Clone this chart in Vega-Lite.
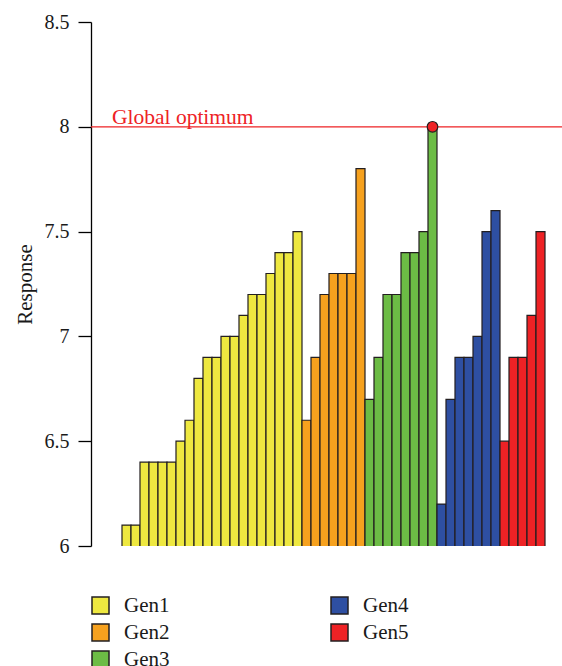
{
  "$schema": "https://vega.github.io/schema/vega-lite/v6.json",
  "width": 471,
  "height": 524,
  "autosize": {"type": "none"},
  "padding": {"left": 91, "top": 22, "right": 0, "bottom": 120},
  "background": "white",
  "config": {
    "view": {"stroke": null},
    "font": "Liberation Serif"
  },
  "data": {
    "values": [
      {"i": 1, "gen": "Gen1", "response": 6.1},
      {"i": 2, "gen": "Gen1", "response": 6.1},
      {"i": 3, "gen": "Gen1", "response": 6.4},
      {"i": 4, "gen": "Gen1", "response": 6.4},
      {"i": 5, "gen": "Gen1", "response": 6.4},
      {"i": 6, "gen": "Gen1", "response": 6.4},
      {"i": 7, "gen": "Gen1", "response": 6.5},
      {"i": 8, "gen": "Gen1", "response": 6.6},
      {"i": 9, "gen": "Gen1", "response": 6.8},
      {"i": 10, "gen": "Gen1", "response": 6.9},
      {"i": 11, "gen": "Gen1", "response": 6.9},
      {"i": 12, "gen": "Gen1", "response": 7.0},
      {"i": 13, "gen": "Gen1", "response": 7.0},
      {"i": 14, "gen": "Gen1", "response": 7.1},
      {"i": 15, "gen": "Gen1", "response": 7.2},
      {"i": 16, "gen": "Gen1", "response": 7.2},
      {"i": 17, "gen": "Gen1", "response": 7.3},
      {"i": 18, "gen": "Gen1", "response": 7.4},
      {"i": 19, "gen": "Gen1", "response": 7.4},
      {"i": 20, "gen": "Gen1", "response": 7.5},
      {"i": 21, "gen": "Gen2", "response": 6.6},
      {"i": 22, "gen": "Gen2", "response": 6.9},
      {"i": 23, "gen": "Gen2", "response": 7.2},
      {"i": 24, "gen": "Gen2", "response": 7.3},
      {"i": 25, "gen": "Gen2", "response": 7.3},
      {"i": 26, "gen": "Gen2", "response": 7.3},
      {"i": 27, "gen": "Gen2", "response": 7.8},
      {"i": 28, "gen": "Gen3", "response": 6.7},
      {"i": 29, "gen": "Gen3", "response": 6.9},
      {"i": 30, "gen": "Gen3", "response": 7.2},
      {"i": 31, "gen": "Gen3", "response": 7.2},
      {"i": 32, "gen": "Gen3", "response": 7.4},
      {"i": 33, "gen": "Gen3", "response": 7.4},
      {"i": 34, "gen": "Gen3", "response": 7.5},
      {"i": 35, "gen": "Gen3", "response": 8.0},
      {"i": 36, "gen": "Gen4", "response": 6.2},
      {"i": 37, "gen": "Gen4", "response": 6.7},
      {"i": 38, "gen": "Gen4", "response": 6.9},
      {"i": 39, "gen": "Gen4", "response": 6.9},
      {"i": 40, "gen": "Gen4", "response": 7.0},
      {"i": 41, "gen": "Gen4", "response": 7.5},
      {"i": 42, "gen": "Gen4", "response": 7.6},
      {"i": 43, "gen": "Gen5", "response": 6.5},
      {"i": 44, "gen": "Gen5", "response": 6.9},
      {"i": 45, "gen": "Gen5", "response": 6.9},
      {"i": 46, "gen": "Gen5", "response": 7.1},
      {"i": 47, "gen": "Gen5", "response": 7.5}
    ]
  },
  "layer": [
    {
      "mark": {"type": "bar", "orient": "vertical", "width": 9, "stroke": "#231f20", "strokeWidth": 1.2, "clip": true},
      "encoding": {
        "x": {"field": "i", "type": "quantitative", "scale": {"domain": [-2.944, 49.389], "nice": false, "zero": false, "padding": 0}, "axis": null},
        "y": {
          "field": "response", "type": "quantitative",
          "scale": {"domain": [6, 8.5], "nice": false, "zero": false},
          "axis": {
            "title": "Response",
            "values": [6, 6.5, 7, 7.5, 8, 8.5],
            "format": "~g",
            "grid": false,
            "domainColor": "#000000",
            "domainWidth": 1.3,
            "tickColor": "#000000",
            "tickWidth": 1.3,
            "tickSize": 13,
            "labelPadding": 9,
            "labelFont": "Liberation Serif",
            "labelFontSize": 20,
            "labelColor": "#1a1a1a",
            "titleFont": "Liberation Serif",
            "titleFontSize": 21,
            "titleFontWeight": "normal",
            "titleColor": "#1a1a1a",
            "titlePadding": 9
          }
        },
        "color": {
          "field": "gen", "type": "nominal",
          "scale": {
            "domain": ["Gen1", "Gen2", "Gen3", "Gen4", "Gen5"],
            "range": ["#EEE840", "#F6A11E", "#6CBC45", "#2E4FA2", "#EE2225"]
          },
          "legend": {
            "title": null,
            "orient": "none",
            "legendX": -1,
            "legendY": 573,
            "direction": "vertical",
            "columns": 2,
            "columnPadding": 158,
            "rowPadding": 4,
            "symbolType": "square",
            "symbolSize": 289,
            "symbolStrokeColor": "#231f20",
            "symbolStrokeWidth": 1.5,
            "symbolOpacity": 1,
            "labelFont": "Liberation Serif",
            "labelFontSize": 21,
            "labelColor": "#1a1a1a",
            "labelOffset": 13,
            "padding": 0
          }
        }
      }
    },
    {
      "data": {"values": [{"opt": 8}]},
      "mark": {"type": "rule", "color": "#EE2225", "strokeWidth": 1.3},
      "encoding": {
        "y": {"field": "opt", "type": "quantitative"}
      }
    },
    {
      "data": {"values": [{"i": -0.61, "opt": 8, "label": "Global optimum"}]},
      "mark": {"type": "text", "align": "left", "baseline": "alphabetic", "dy": -3, "font": "Liberation Serif", "fontSize": 21.5, "color": "#EE2225"},
      "encoding": {
        "x": {"field": "i", "type": "quantitative"},
        "y": {"field": "opt", "type": "quantitative"},
        "text": {"field": "label"}
      }
    },
    {
      "data": {"values": [{"i": 35, "response": 8.0}]},
      "mark": {"type": "point", "shape": "circle", "filled": true, "size": 113, "fill": "#EE2225", "stroke": "#231f20", "strokeWidth": 1.2, "opacity": 1},
      "encoding": {
        "x": {"field": "i", "type": "quantitative"},
        "y": {"field": "response", "type": "quantitative"}
      }
    }
  ]
}
